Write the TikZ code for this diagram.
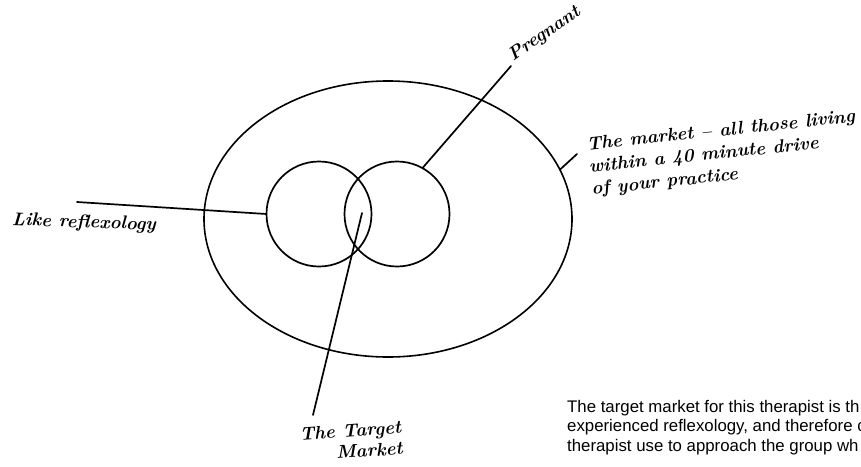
\documentclass[tikz,border=0pt]{standalone}
\usepackage{fontspec}
\newfontfamily\arialfont{Liberation Sans}
\usetikzlibrary{shapes.geometric}
\tikzset{
  ln/.style={line width=1.7pt, line cap=round},
  hand/.style={font=\fontsize{18.4}{21}\selectfont\bfseries\itshape, inner sep=0pt},
  ring/.style={draw, circle, line width=1.7pt, inner sep=0pt, outer sep=0pt, minimum size=105pt},
  note/.style={font=\arialfont\fontsize{16.8}{19.6}\selectfont, inner sep=0pt, align=left},
}
\begin{document}
\begin{tikzpicture}[x=1pt,y=-1pt]
\useasboundingbox (0,0) rectangle (861,466);
\clip (0,0) rectangle (861,466);
% shapes
\node[draw, ellipse, line width=1.6pt, inner sep=0pt, outer sep=0pt,
      minimum width=368pt, minimum height=276pt] (mkt) at (388,219) {};
\node[ring] (like) at (319,214) {};
\node[ring] (preg) at (397,214) {};
% free ends
\coordinate (pe) at (511,66);
\coordinate (me) at (577,154);
\coordinate (le) at (77,202);
\coordinate (tt) at (362,213);
\coordinate (tb) at (313,415);
% labels
\node[hand, anchor=base west, rotate=35] (lpreg) at (513,62) {Pregnant};
\node[hand, anchor=west, align=left, rotate=6, font=\fontsize{18.4}{22.5}\selectfont\bfseries\itshape] (lmkt) at (589,168)
  {The market -- all those living\\within a 40 minute drive\\of your practice};
\node[hand, rotate=-2] (llike) at (84,223) {Like reflexology};
\node[hand, align=right, rotate=4] (ltgt) at (351,441) {The Target\\Market};
\node[note, anchor=north west] (txt) at (567,400)
  {The target market for this therapist is th\\experienced reflexology, and therefore c\\therapist use to approach the group wh};
% connectors
\draw[ln] (preg.61) -- (pe);
\draw[ln] (mkt.16) -- (me);
\draw[ln] (like.180) -- (le);
\draw[ln] (tt) -- (tb);
\end{tikzpicture}
\end{document}
